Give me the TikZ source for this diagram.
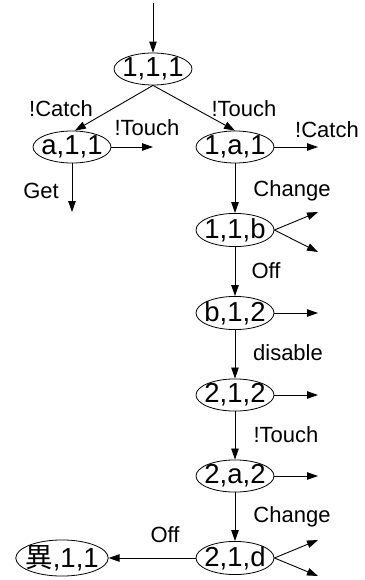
\documentclass[tikz,border=0pt]{standalone}
\usepackage{fontspec}
\setmainfont{Liberation Sans}
\newfontfamily\jpfont{Noto Sans CJK JP}
\usetikzlibrary{shapes.geometric}
\usetikzlibrary{arrows.meta}
\newcommand{\statefont}{\fontsize{27.5}{30}\selectfont}
\newcommand{\eventfont}{\fontsize{22}{25}\selectfont}
\tikzset{
  state/.style={ellipse,draw=black,line width=0.8pt,inner xsep=-4pt,inner ysep=0pt,minimum width=78pt,minimum height=32pt,font=\statefont},
  event/.style={font=\eventfont,text=black,inner sep=0pt},
  trans/.style={draw=black,line width=0.9pt,-{Triangle[length=11pt,width=7.5pt]}}
}

\begin{document}
\begin{tikzpicture}[x=1pt,y=-1pt]
\useasboundingbox (0,0) rectangle (364,580);

% states
\node[state] (s111) at (153,69) {1,1,1};
\node[state] (sa11) at (72,147) {a,1,1};
\node[state] (s1a1) at (235,147) {1,a,1};
\node[state] (s11b) at (235,230) {1,1,b};
\node[state] (sb12) at (235,313) {b,1,2};
\node[state] (s212) at (235,395) {2,1,2};
\node[state] (s2a2) at (235,476) {2,a,2};
\node[state] (s21d) at (235,558) {2,1,d};
\node[state] (sx11) at (62,558) {{\jpfont 異},1,1};

% loose ends
\coordinate (init) at (153,3);
\coordinate (oa11) at (153,147);
\coordinate (o1a1) at (318,147);
\coordinate (get) at (72,212);
\coordinate (o11bu) at (318,212);
\coordinate (o11bd) at (318,252);
\coordinate (ob12) at (318,313);
\coordinate (o212) at (318,395);
\coordinate (o2a2) at (318,476);
\coordinate (o21du) at (318,540);
\coordinate (o21dd) at (318,576);

% transitions
\draw[trans] (init) -- (s111.north);
\draw[trans] (s111.south) -- (sa11.80);
\draw[trans] (s111.south) -- (s1a1.north);
\draw[trans] (sa11.east) -- (oa11);
\draw[trans] (s1a1.east) -- (o1a1);
\draw[trans] (sa11.south) -- (get);
\draw[trans] (s1a1.south) -- (s11b.north);
\draw[trans] (s11b.east) -- (o11bu);
\draw[trans] (s11b.east) -- (o11bd);
\draw[trans] (s11b.south) -- (sb12.north);
\draw[trans] (sb12.east) -- (ob12);
\draw[trans] (sb12.south) -- (s212.north);
\draw[trans] (s212.east) -- (o212);
\draw[trans] (s212.south) -- (s2a2.north);
\draw[trans] (s2a2.east) -- (o2a2);
\draw[trans] (s2a2.south) -- (s21d.north);
\draw[trans] (s21d.east) -- (o21du);
\draw[trans] (s21d.east) -- (o21dd);
\draw[trans] (s21d.west) -- (sx11.east);

% events
\node[event] (lcatch) at (61,109) {!Catch};
\node[event] (ltouch) at (244,109) {!Touch};
\node[event] (ltoucha) at (147,128) {!Touch};
\node[event] (lcatcha) at (327,130) {!Catch};
\node[event] (lget) at (41,191) {Get};
\node[event] (lchange) at (292,191) {Change};
\node[event] (loff) at (266,271) {Off};
\node[event] (ldisable) at (288,353) {disable};
\node[event] (ltouchb) at (286,435) {!Touch};
\node[event] (lchangeb) at (292,517) {Change};
\node[event] (loffb) at (165,535) {Off};
\end{tikzpicture}
\end{document}
